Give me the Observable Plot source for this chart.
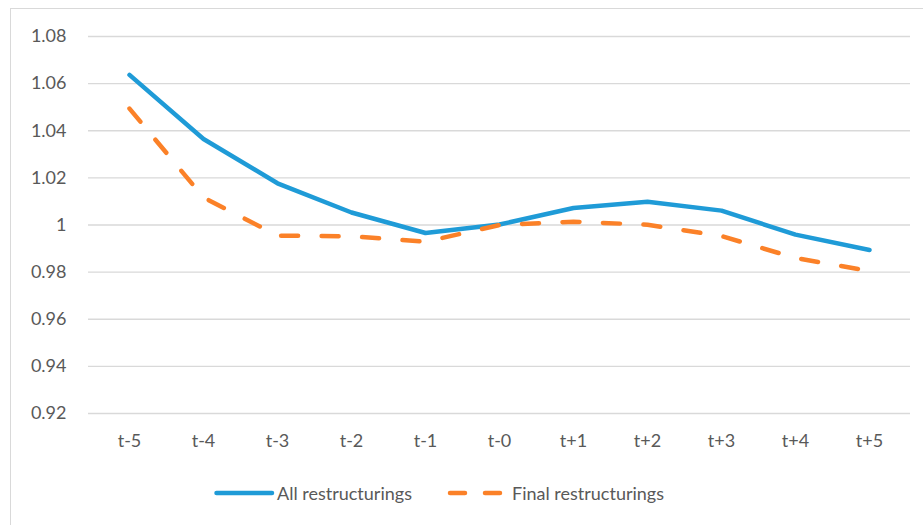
<!DOCTYPE html>
<html>
<head>
<meta charset="utf-8">
<script src="https://cdn.jsdelivr.net/npm/d3@7"></script>
<script src="https://cdn.jsdelivr.net/npm/@observablehq/plot@0.6"></script>
<style>
  html, body { margin: 0; padding: 0; background: #fff; }
  body { width: 923px; height: 525px; position: relative; overflow: hidden; font-family: Lato, "Open Sans", sans-serif; }
  #frame { position: absolute; left: 10px; top: 8px; width: 940px; height: 540px; border: 1px solid #d9d9d9; box-sizing: border-box; }
  #chart { position: absolute; left: 0; top: 0; }
  #legend { position: absolute; top: 481px; left: 0; width: 923px; font-size: 18px; color: #595959; }
  .item { position: absolute; display: flex; align-items: center; white-space: nowrap; }
</style>
</head>
<body>
<div id="frame"></div>
<div id="chart"></div>
<div id="legend"></div>
<script>
const periods = ["t-5", "t-4", "t-3", "t-2", "t-1", "t-0", "t+1", "t+2", "t+3", "t+4", "t+5"];
const allRestructurings = [1.0637, 1.0365, 1.0177, 1.0053, 0.9966, 1.0002, 1.0072, 1.0099, 1.0061, 0.9959, 0.9894];
const finalRestructurings = [1.0494, 1.0117, 0.9955, 0.9952, 0.9929, 1.0000, 1.0014, 1.0001, 0.9953, 0.9860, 0.9805];
const yTicks = [0.92, 0.94, 0.96, 0.98, 1.00, 1.02, 1.04, 1.06, 1.08];
const seriesNames = ["All restructurings", "Final restructurings"];
const seriesColors = ["#1f9bd7", "#fb8128"];

const allData = periods.map((p, i) => ({period: p, value: allRestructurings[i]}));
const finalData = periods.map((p, i) => ({period: p, value: finalRestructurings[i]}));

const chart = Plot.plot({
  width: 923,
  height: 470,
  marginTop: 36,
  marginBottom: 57,
  marginLeft: 88,
  marginRight: 13,
  style: { color: "#595959", fontFamily: "Lato, 'Open Sans', sans-serif", fontSize: "18px", background: "transparent" },
  x: { type: "point", domain: periods, padding: 0.5, label: null },
  y: { domain: [0.92, 1.08], label: null },
  marks: [
    Plot.gridY(yTicks, { stroke: "#d9d9d9", strokeOpacity: 1, strokeWidth: 1.3 }),
    Plot.axisY(yTicks, { tickSize: 0, tickPadding: 22, tickFormat: d => String(+d.toFixed(2)), fontSize: 18, label: null }),
    Plot.axisX({ tickSize: 0, tickPadding: 21, fontSize: 18, label: null }),
    Plot.line(allData, { x: "period", y: "value", stroke: seriesColors[0], strokeWidth: 4.5, strokeLinejoin: "round", strokeLinecap: "round" }),
    Plot.line(finalData, { x: "period", y: "value", stroke: seriesColors[1], strokeWidth: 4.5, strokeLinejoin: "round", strokeLinecap: "round", strokeDasharray: "17,23.5" })
  ]
});
document.getElementById("chart").appendChild(chart);

const legend = document.getElementById("legend");
legend.innerHTML = `
  <div class="item" style="left:214px;">
    <svg width="62" height="24"><line x1="2.5" y1="12" x2="58" y2="12" stroke="${seriesColors[0]}" stroke-width="4.5" stroke-linecap="round"/></svg>
    <span style="margin-left:1px">${seriesNames[0]}</span>
  </div>
  <div class="item" style="left:446px;">
    <svg width="62" height="24"><line x1="4" y1="12" x2="58" y2="12" stroke="${seriesColors[1]}" stroke-width="4.5" stroke-linecap="round" stroke-dasharray="15,20"/></svg>
    <span style="margin-left:4px">${seriesNames[1]}</span>
  </div>`;
</script>
</body>
</html>
